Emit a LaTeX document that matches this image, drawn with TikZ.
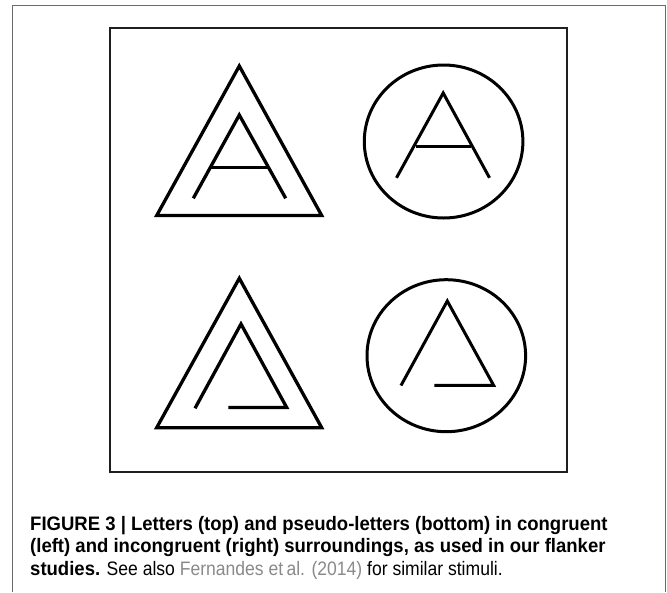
\documentclass[tikz,border=0pt]{standalone}
\usepackage{fontspec}
\setmainfont{Liberation Sans}[FakeStretch=0.90,BoldFeatures={FakeStretch=0.95}]
\definecolor{refgray}{HTML}{8A8A8A}
\definecolor{framegray}{HTML}{6A6A6A}
\begin{document}
\begin{tikzpicture}[x=1pt,y=-1pt,
  stroke/.style={line width=3.3pt,line join=miter,line cap=butt,black},
  captext/.style={anchor=base west,inner sep=0pt,font=\fontsize{19.5}{22}\selectfont}]
\useasboundingbox[fill=white] (0,0) rectangle (667,592);
% outer frame (open at bottom)
\draw[framegray,line width=1.2pt] (12.7,592) -- (12.7,5.7) -- (665.5,5.7) -- (665.5,592);
% inner square
\draw[black!88,line width=2.6pt] (110,28) rectangle (567,472);
% top-left: triangle with A
\draw[stroke] (239.3,66) -- (321.7,215.5) -- (156.7,215.5) -- cycle;
\draw[stroke] (193.3,198.3) -- (239.3,115) -- (285.7,198.3);
\draw[stroke] (210.4,167.3) -- (268.3,167.3);
% top-right: circle with A
\draw[line width=3pt] (443.6,141.5) ellipse [x radius=79.3, y radius=76.5];
\draw[stroke,line width=3pt] (396.5,177.8) -- (443.2,93) -- (489.5,177.8);
\draw[stroke,line width=3pt] (416,146) -- (470.5,146);
% bottom-left: triangle with pseudo-letter
\draw[stroke] (239.3,278.3) -- (321.7,427.7) -- (156.7,427.7) -- cycle;
\draw[stroke] (195,408.3) -- (241,324) -- (286.7,407.5) -- (228.3,407.5);
% bottom-right: circle with pseudo-letter
\draw[line width=3pt] (446.3,355.7) ellipse [x radius=79.3, y radius=76];
\draw[stroke,line width=3pt] (401,385.5) -- (447.3,301) -- (493.6,385.3) -- (434.4,385.3);
% caption
\node[captext] (l1) at (30,530) {\textbf{FIGURE 3 | Letters (top) and pseudo-letters (bottom) in congruent}};
\node[captext] (l2) at (30,552.5) {\textbf{(left) and incongruent (right) surroundings, as used in our flanker}};
\node[captext] (l3) at (30,575) {\textbf{studies.} See also \textcolor{refgray}{Fernandes et\,al. (2014)} for similar stimuli.};
\end{tikzpicture}
\end{document}
